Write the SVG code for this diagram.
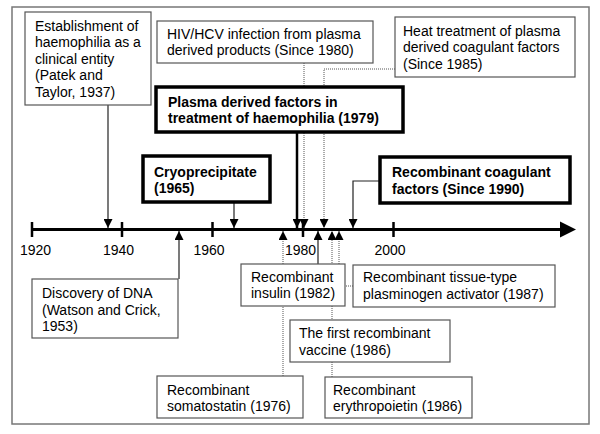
<svg xmlns="http://www.w3.org/2000/svg" width="600" height="434" viewBox="0 0 600 434">
<defs>
<style>
text{font-family:"Liberation Sans",Arial,sans-serif;font-size:14px;fill:#000}
.b{font-weight:bold}
.yr{font-size:14px;text-anchor:middle}
.box{fill:#fff;stroke:#555;stroke-width:1.2}
.tbox{fill:#fff;stroke:#000;stroke-width:3.5}
.sol{fill:none;stroke:#222;stroke-width:1.2}
.thk{fill:none;stroke:#000;stroke-width:2.5}
.dot{fill:none;stroke:#555;stroke-width:1;stroke-dasharray:1 1}
</style>
<marker id="ah" viewBox="0 0 10 10" refX="10" refY="5" markerWidth="9" markerHeight="9" markerUnits="userSpaceOnUse" orient="auto">
<path d="M0,0 L10,5 L0,10 z" fill="#000"/>
</marker>
</defs>
<rect x="12" y="7" width="577" height="417" fill="#fff" stroke="#777" stroke-width="1.5"/>
<g id="timeline">
<line x1="32" y1="229.5" x2="562" y2="229.5" stroke="#000" stroke-width="3"/>
<polygon points="560,221.5 576,229.5 560,237.5" fill="#000"/>
<g stroke="#000" stroke-width="2.5">
<line x1="32" y1="222" x2="32" y2="237"/>
<line x1="122" y1="222" x2="122" y2="237"/>
<line x1="212.5" y1="222" x2="212.5" y2="237"/>
<line x1="303" y1="222" x2="303" y2="237"/>
<line x1="393.5" y1="222" x2="393.5" y2="237"/>
</g>
<text class="yr" x="35.5" y="255">1920</text>
<text class="yr" x="118.6" y="255">1940</text>
<text class="yr" x="209" y="255">1960</text>
<text class="yr" x="300.5" y="255">1980</text>
<text class="yr" x="390" y="255">2000</text>
</g>
<g id="connectors">
<path class="sol" d="M108,105 V228" marker-end="url(#ah)"/>
<path class="sol" d="M234,202 V228" marker-end="url(#ah)"/>
<path class="thk" d="M297,132 V228" marker-end="url(#ah)"/>
<path class="dot" d="M304,63 V228" marker-end="url(#ah)"/>
<path class="dot" d="M395,69 H324 V228" marker-end="url(#ah)"/>
<path class="sol" d="M380,181 H353 V228" marker-end="url(#ah)"/>
<path class="sol" d="M179,279 V231" marker-end="url(#ah)"/>
<path class="dot" d="M283,376 V231" marker-end="url(#ah)"/>
<path class="sol" d="M318,264 V231" marker-end="url(#ah)"/>
<path class="dot" d="M332,377 V231" marker-end="url(#ah)"/>
<path class="dot" d="M353,286 H339 V231" marker-end="url(#ah)"/>
</g>
<g id="n-establishment">
<rect class="box" x="25" y="12" width="126" height="93"/>
<text x="35" y="31">Establishment of<tspan x="35" y="47.4">haemophilia as a</tspan><tspan x="35" y="63.8">clinical entity</tspan><tspan x="35" y="80.2">(Patek and</tspan><tspan x="35" y="96.6">Taylor, 1937)</tspan></text>
</g>
<g id="n-hiv">
<rect class="box" x="157" y="21" width="216" height="42"/>
<text x="167" y="38.5">HIV/HCV infection from plasma<tspan x="167" y="55">derived products (Since 1980)</tspan></text>
</g>
<g id="n-heat">
<rect class="box" x="395" y="17" width="180" height="60"/>
<text x="403" y="36">Heat treatment of plasma<tspan x="403" y="52.4">derived coagulant factors</tspan><tspan x="403" y="68.8">(Since 1985)</tspan></text>
</g>
<g id="n-plasma">
<rect class="tbox" x="156" y="87" width="247" height="45"/>
<text class="b" x="168" y="106.5">Plasma derived factors in<tspan x="168" y="122.5">treatment of haemophilia (1979)</tspan></text>
</g>
<g id="n-cryo">
<rect class="tbox" x="143" y="156" width="127" height="46"/>
<text class="b" x="154" y="177">Cryoprecipitate<tspan x="154" y="193">(1965)</tspan></text>
</g>
<g id="n-recomb-coag">
<rect class="tbox" x="380" y="157" width="190" height="46"/>
<text class="b" x="392" y="177">Recombinant coagulant<tspan x="392" y="193.5">factors (Since 1990)</tspan></text>
</g>
<g id="n-dna">
<rect class="box" x="32" y="279" width="146" height="59"/>
<text x="42" y="298">Discovery of DNA<tspan x="42" y="314.5">(Watson and Crick,</tspan><tspan x="42" y="331">1953)</tspan></text>
</g>
<g id="n-insulin">
<rect class="box" x="241" y="264" width="104" height="42"/>
<text x="251" y="281.5">Recombinant<tspan x="251" y="298">insulin (1982)</tspan></text>
</g>
<g id="n-tpa">
<rect class="box" x="353" y="265" width="202" height="42"/>
<text x="363" y="282">Recombinant tissue-type<tspan x="363" y="299">plasminogen activator (1987)</tspan></text>
</g>
<g id="n-vaccine">
<rect class="box" x="290" y="320" width="160" height="42"/>
<text x="299" y="338">The first recombinant<tspan x="299" y="354.5">vaccine (1986)</tspan></text>
</g>
<g id="n-somatostatin">
<rect class="box" x="157" y="376" width="146" height="42"/>
<text x="167" y="394.5">Recombinant<tspan x="167" y="411">somatostatin (1976)</tspan></text>
</g>
<g id="n-epo">
<rect class="box" x="325" y="377" width="147" height="41"/>
<text x="333" y="394.5">Recombinant<tspan x="333" y="411">erythropoietin (1986)</tspan></text>
</g>
</svg>
